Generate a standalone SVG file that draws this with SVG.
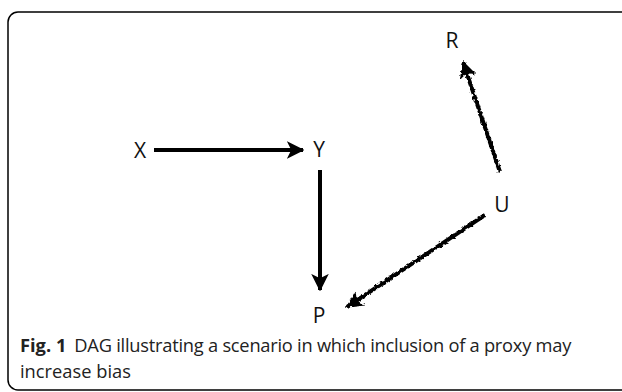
<svg xmlns="http://www.w3.org/2000/svg" width="622" height="392" viewBox="0 0 622 392">
<defs>
<style>
.lbl{font-family:"Open Sans","Liberation Sans",sans-serif;font-size:21px;fill:#111;text-anchor:middle;dominant-baseline:central}
.cap{font-family:"Open Sans","Liberation Sans",sans-serif;font-size:18.3px;fill:#222}
.edge{stroke:#000;stroke-width:4;fill:none}
</style>
<marker id="ah" viewBox="0 0 12 12" refX="11" refY="6" markerWidth="4.4" markerHeight="4.4" markerUnits="strokeWidth" orient="auto">
<path d="M0,0 L12,6 L0,12 L3,6 Z" fill="#000"/>
</marker>
<filter id="wavy" x="-20%" y="-20%" width="140%" height="140%">
<feTurbulence type="fractalNoise" baseFrequency="0.35" numOctaves="1" seed="3"/>
<feDisplacementMap in="SourceGraphic" scale="4" xChannelSelector="R" yChannelSelector="G"/>
</filter>
</defs>
<rect x="8" y="12" width="700" height="378" rx="10" ry="10" fill="#fff" stroke="#000" stroke-width="1.5"/>
<g id="connectors">
<line class="edge" x1="154" y1="150" x2="303" y2="150" marker-end="url(#ah)"/>
<line class="edge" x1="320" y1="170" x2="320" y2="290" marker-end="url(#ah)"/>
<g filter="url(#wavy)">
<line class="edge" x1="485" y1="215" x2="347" y2="307" marker-end="url(#ah)"/>
<line class="edge" x1="500" y1="172" x2="463" y2="62" marker-end="url(#ah)"/>
</g>
</g>
<g id="node-X"><text class="lbl" x="140" y="150">X</text></g>
<g id="node-Y"><text class="lbl" x="319" y="149">Y</text></g>
<g id="node-R"><text class="lbl" x="452" y="40">R</text></g>
<g id="node-U"><text class="lbl" x="502" y="204">U</text></g>
<g id="node-P"><text class="lbl" x="319" y="315">P</text></g>
<g id="caption">
<text class="cap" x="20" y="352"><tspan font-weight="bold">Fig. 1</tspan><tspan dx="8" textLength="497" lengthAdjust="spacing">DAG illustrating a scenario in which inclusion of a proxy may</tspan></text>
<text class="cap" x="20" y="378">increase bias</text>
</g>
</svg>
